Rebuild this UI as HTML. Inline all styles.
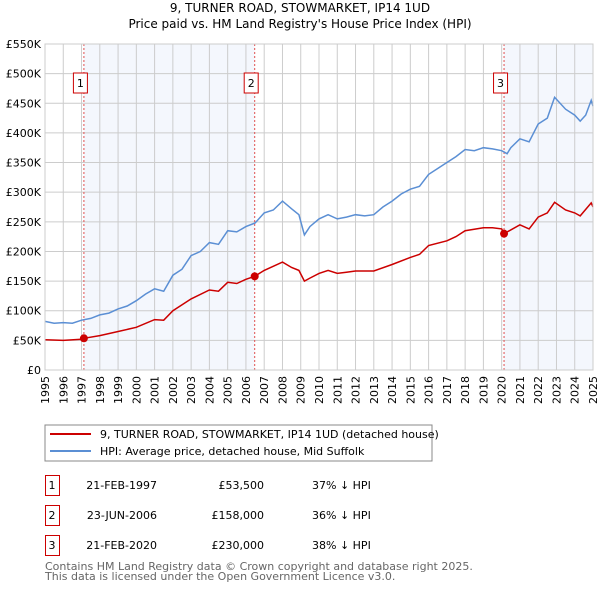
<!DOCTYPE html>
<html><head><meta charset="utf-8"><style>
body{margin:0;background:#fff;width:600px;height:590px;overflow:hidden;font-family:"DejaVu Sans","Liberation Sans",sans-serif;}
svg text{font-family:"DejaVu Sans","Liberation Sans",sans-serif;}
</style></head><body>
<svg id="c" width="600" height="590">
<text x="300" y="12" text-anchor="middle" font-size="12">9, TURNER ROAD, STOWMARKET, IP14 1UD</text>
<text x="300" y="28" text-anchor="middle" font-size="12">Price paid vs. HM Land Registry's House Price Index (HPI)</text>
<g id="plot"></g>
<rect x="45" y="425" width="387" height="36" fill="#fff" stroke="#888"/>
<line x1="50" y1="434" x2="91" y2="434" stroke="#cc0000" stroke-width="2"/>
<text x="100" y="438" font-size="11">9, TURNER ROAD, STOWMARKET, IP14 1UD (detached house)</text>
<line x1="50" y1="451" x2="91" y2="451" stroke="#5b8fd4" stroke-width="2"/>
<text x="100" y="455" font-size="11">HPI: Average price, detached house, Mid Suffolk</text>
<g font-size="11">
<rect x="45.5" y="475.5" width="14" height="20" fill="none" stroke="#cc0000"/><text x="52" y="489" text-anchor="middle">1</text>
<text x="157" y="489" text-anchor="end">21-FEB-1997</text><text x="264" y="489" text-anchor="end">£53,500</text><text x="312" y="489">37% ↓ HPI</text>
<rect x="45.5" y="505.5" width="14" height="20" fill="none" stroke="#cc0000"/><text x="52" y="519" text-anchor="middle">2</text>
<text x="157" y="519" text-anchor="end">23-JUN-2006</text><text x="264" y="519" text-anchor="end">£158,000</text><text x="312" y="519">36% ↓ HPI</text>
<rect x="45.5" y="535.5" width="14" height="20" fill="none" stroke="#cc0000"/><text x="52" y="549" text-anchor="middle">3</text>
<text x="157" y="549" text-anchor="end">21-FEB-2020</text><text x="264" y="549" text-anchor="end">£230,000</text><text x="312" y="549">38% ↓ HPI</text>
</g>
<text x="45" y="570" font-size="11" fill="#666">Contains HM Land Registry data © Crown copyright and database right 2025.</text>
<text x="45" y="580" font-size="11" fill="#666">This data is licensed under the Open Government Licence v3.0.</text>
</svg>
<script>
const hpiYears=[1995,1995.5,1996,1996.5,1997,1997.5,1998,1998.5,1999,1999.5,2000,2000.5,2001,2001.5,2002,2002.5,2003,2003.5,2004,2004.5,2005,2005.5,2006,2006.5,2007,2007.5,2008,2008.5,2008.9,2009.2,2009.5,2010,2010.5,2011,2011.5,2012,2012.5,2013,2013.5,2014,2014.5,2015,2015.5,2016,2016.5,2017,2017.5,2018,2018.5,2019,2019.5,2020,2020.3,2020.5,2021,2021.5,2022,2022.5,2022.9,2023.5,2024,2024.3,2024.6,2024.9,2025];
const hpiValues=[82,79,80,79,84,87,93,96,103,108,117,128,137,133,160,170,193,200,215,212,235,233,242,248,265,270,285,272,262,228,242,255,262,255,258,262,260,262,275,285,297,305,310,330,340,350,360,372,370,375,373,370,365,375,390,385,415,425,460,440,430,420,430,455,445];
const priceYears=[1995,1996,1997,1997.13,1998,1999,2000,2001,2001.5,2002,2003,2004,2004.5,2005,2005.5,2006,2006.48,2007,2008,2008.5,2008.9,2009.2,2009.5,2010,2010.5,2011,2011.5,2012,2013,2014,2015,2015.5,2016,2017,2017.5,2018,2019,2019.5,2020,2020.13,2021,2021.5,2022,2022.5,2022.9,2023.5,2024,2024.3,2024.9,2025];
const priceValues=[51,50,52,53.5,58,65,72,85,84,100,120,135,133,148,146,153,158,168,182,173,168,150,155,163,168,163,165,167,167,178,190,195,210,218,225,235,240,240,238,230,245,238,258,265,283,270,265,260,282,275];
const saleYears=[1997.13,2006.48,2020.13];
const saleValues=[53.5,158,230];
const saleLabels=["1","2","3"];
const yTicks=[0,50,100,150,200,250,300,350,400,450,500,550];
const yTickLabels=["£0","£50K","£100K","£150K","£200K","£250K","£300K","£350K","£400K","£450K","£500K","£550K"];
const xTicks=[1995,1996,1997,1998,1999,2000,2001,2002,2003,2004,2005,2006,2007,2008,2009,2010,2011,2012,2013,2014,2015,2016,2017,2018,2019,2020,2021,2022,2023,2024,2025];

const X0=45,X1=593,Y0=370,Y1=44;
const xs=y=>X0+(y-1995)/(2025-1995)*(X1-X0);
const ys=v=>Y0-v/550*(Y0-Y1);
const NS="http://www.w3.org/2000/svg";
const g=document.getElementById('plot');
function mk(t,a,p){const e=document.createElementNS(NS,t);for(const k in a)e.setAttribute(k,a[k]);(p||g).appendChild(e);return e;}
let e=mk('rect',{x:xs(saleYears[0]),y:Y1,width:xs(saleYears[1])-xs(saleYears[0]),height:Y0-Y1,fill:'#eef3fc',opacity:0.65});


e=mk('rect',{x:xs(saleYears[2]),y:Y1,width:X1-xs(saleYears[2]),height:Y0-Y1,fill:'#eef3fc',opacity:0.65});


yTicks.forEach((v,i)=>{
 e=mk('line',{x1:X0,x2:X1,y1:ys(v),y2:ys(v),stroke:'#ccc'});
 
 
 e=mk('text',{x:X0-4,y:ys(v)+4,'text-anchor':'end','font-size':11});
 e.textContent=yTickLabels[i];
 
 
});
xTicks.forEach(y=>{
 e=mk('line',{x1:xs(y),x2:xs(y),y1:Y1,y2:Y0,stroke:'#ccc'});
 
 
 e=mk('text',{x:0,y:0,'text-anchor':'end','font-size':11,transform:`translate(${xs(y)+4},${Y0+6}) rotate(-90)`});
 e.textContent=y;
 
 
});
saleYears.forEach((y,i)=>{
 e=mk('line',{x1:xs(y),x2:xs(y),y1:Y1,y2:Y0,stroke:'#e05050','stroke-dasharray':'2,2'});
 
 
 e=mk('rect',{x:xs(y)-10.5,y:73,width:14,height:20,fill:'#fff',stroke:'#cc0000'});
 
 
 e=mk('text',{x:xs(y)-3.5,y:87,'text-anchor':'middle','font-size':11});
 e.textContent=saleLabels[i];
 
 
});
function path(xsA,vs,col,name){
 const d=xsA.map((y,i)=>(i?'L':'M')+xs(y).toFixed(1)+','+ys(vs[i]).toFixed(1)).join('');
 const p=mk('path',{d:d,fill:'none',stroke:col,'stroke-width':1.5});
 
 
}
path(hpiYears,hpiValues,'#5b8fd4','hpi-line');
path(priceYears,priceValues,'#cc0000','price-line');
saleYears.forEach((y,i)=>{
 e=mk('circle',{cx:xs(y),cy:ys(saleValues[i]),r:4,fill:'#cc0000'});
 
 
});
e=mk('rect',{x:X0,y:Y1,width:X1-X0,height:Y0-Y1,fill:'none',stroke:'#ccc'});


</script>
</body></html>
